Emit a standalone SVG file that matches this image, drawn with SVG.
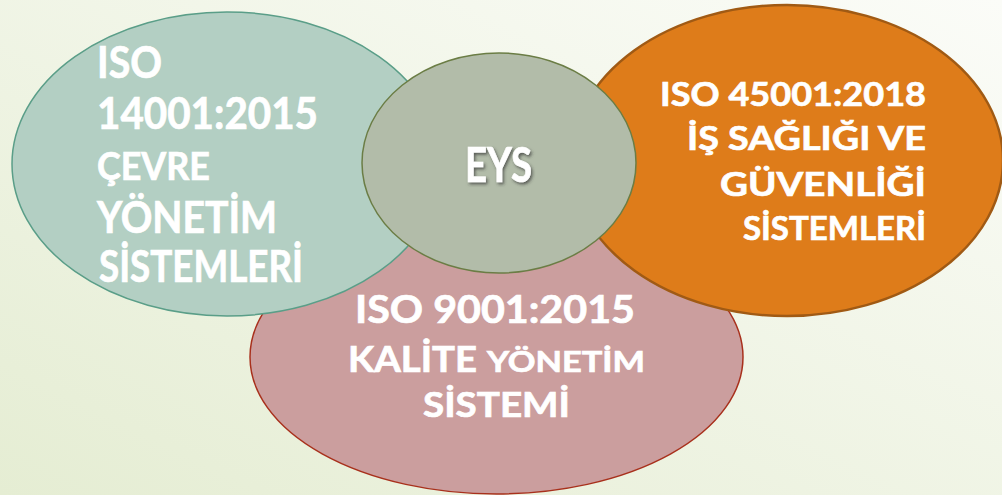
<svg xmlns="http://www.w3.org/2000/svg" width="1002" height="495" viewBox="0 0 1002 495">
<defs>
<linearGradient id="bg" x1="1" y1="0" x2="0" y2="1">
<stop offset="0" stop-color="#fbfcf8"/>
<stop offset="1" stop-color="#e5edd3"/>
</linearGradient>
<filter id="sh" x="-20%" y="-30%" width="140%" height="160%">
<feDropShadow dx="1.5" dy="2" stdDeviation="1.8" flood-color="#333" flood-opacity="0.7"/>
</filter>
</defs>
<style>
text{font-family:"Lato","Liberation Sans",sans-serif;font-weight:700;fill:#fff;stroke:#fff;stroke-width:0.7px}
.l{font-size:43px}
.r{font-size:33px}
.b{font-size:36px}
</style>
<rect width="1002" height="495" fill="url(#bg)"/>
<g id="kalite">
<ellipse cx="496.5" cy="357" rx="246.5" ry="137" fill="#cb9e9e" stroke="#a8301c" stroke-width="1.5"/>
</g>
<g id="cevre">
<ellipse cx="227" cy="164" rx="215" ry="152" fill="#b3cfc3" stroke="#5a9e88" stroke-width="1.5"/>
</g>
<g id="isg">
<ellipse cx="787" cy="160.5" rx="216" ry="155.5" fill="#de7c1a" stroke="#a05a14" stroke-width="2.5"/>
</g>
<g id="eys">
<ellipse cx="499" cy="163" rx="137" ry="110" fill="#b2bca9" stroke="#6b7d45" stroke-width="1.5"/>
</g>
<g id="cevre-text">
<text class="l" x="97" y="78" textLength="65" lengthAdjust="spacingAndGlyphs">ISO</text>
<text class="l" x="97" y="129" textLength="221" lengthAdjust="spacingAndGlyphs">14001:2015</text>
<text x="97" y="180" font-size="38" textLength="113" lengthAdjust="spacingAndGlyphs">ÇEVRE</text>
<text class="l" x="97" y="233" textLength="180" lengthAdjust="spacingAndGlyphs">YÖNETİM</text>
<text class="l" x="99" y="282" textLength="204" lengthAdjust="spacingAndGlyphs">SİSTEMLERİ</text>
</g>
<g id="isg-text">
<text class="r" x="660" y="106" textLength="266" lengthAdjust="spacingAndGlyphs">ISO 45001:2018</text>
<text class="r" x="687" y="150" textLength="239" lengthAdjust="spacingAndGlyphs">İŞ SAĞLIĞI VE</text>
<text class="r" x="720" y="196" textLength="206" lengthAdjust="spacingAndGlyphs">GÜVENLİĞİ</text>
<text class="r" x="743" y="240" textLength="183" lengthAdjust="spacingAndGlyphs">SİSTEMLERİ</text>
</g>
<g id="kalite-text">
<text x="355" y="323" font-size="39" textLength="280" lengthAdjust="spacingAndGlyphs">ISO 9001:2015</text>
<text class="b" x="348" y="372" textLength="129" lengthAdjust="spacingAndGlyphs">KALİTE</text>
<text x="487" y="372" font-size="29" textLength="158" lengthAdjust="spacingAndGlyphs">YÖNETİM</text>
<text x="423" y="417" font-size="35" textLength="147" lengthAdjust="spacingAndGlyphs">SİSTEMİ</text>
</g>
<g id="eys-text">
<text x="465" y="182" font-size="48" textLength="67" lengthAdjust="spacingAndGlyphs" filter="url(#sh)" stroke-width="1.2">EYS</text>
</g>
</svg>
